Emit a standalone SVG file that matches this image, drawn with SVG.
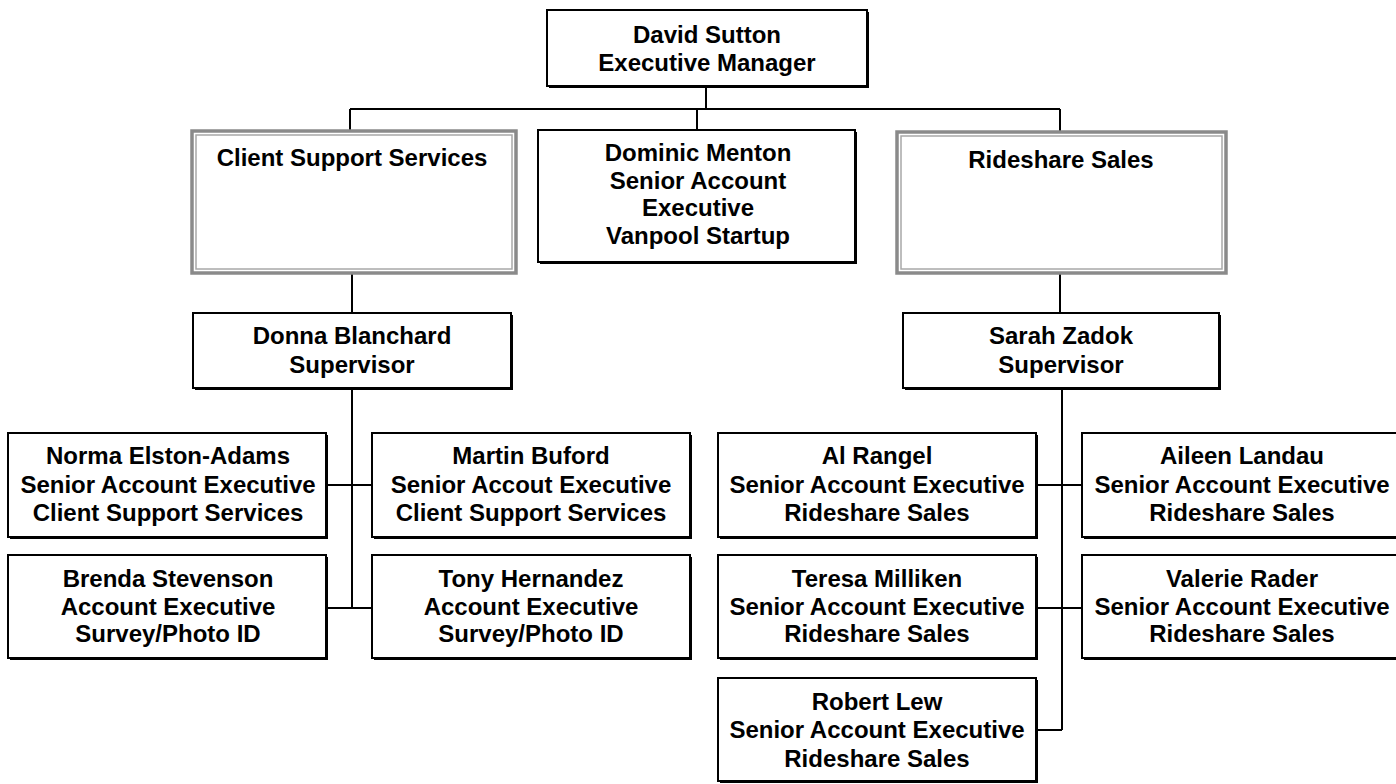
<svg xmlns="http://www.w3.org/2000/svg" width="1396" height="784" viewBox="0 0 1396 784">
<style>
text{font-family:"Liberation Sans",Arial,sans-serif;font-weight:bold;font-size:24px;text-anchor:middle;fill:#000}
.box{fill:#fff;stroke:#000;stroke-width:2}
.sh{fill:#000}
.gout{fill:#fff;stroke:#8a8a8a;stroke-width:3.5}
.gin{fill:none;stroke:#a8a8a8;stroke-width:1.5}
.ln{fill:none;stroke:#000;stroke-width:2}
</style>
<rect width="1396" height="784" fill="#fff"/>
<g id="connectors">
<path class="ln" d="M706 86V109M350 109H1060M350 109V130M697 109V130M1060 109V132"/>
<path class="ln" d="M352 273V313M1060 273V313"/>
<path class="ln" d="M352 388V608M328 485H372M328 608H372"/>
<path class="ln" d="M1062 388V730M1038 485H1082M1038 608H1082M1038 730H1062"/>
</g>
<g id="david-sutton">
<rect class="sh" x="549" y="12" width="320" height="76"/>
<rect class="box" x="547" y="10" width="320" height="76"/>
<text x="707" y="43">David Sutton</text>
<text x="707" y="71">Executive Manager</text>
</g>
<g id="client-support-services">
<rect class="gout" x="192" y="131" width="324" height="142"/>
<rect class="gin" x="196" y="135" width="316" height="134"/>
<text x="352" y="166">Client Support Services</text>
</g>
<g id="dominic-menton">
<rect class="sh" x="540" y="132" width="317" height="132"/>
<rect class="box" x="538" y="130" width="317" height="132"/>
<text x="698" y="161">Dominic Menton</text>
<text x="698" y="189">Senior Account</text>
<text x="698" y="216">Executive</text>
<text x="698" y="244">Vanpool Startup</text>
</g>
<g id="rideshare-sales">
<rect class="gout" x="897" y="132" width="329" height="141"/>
<rect class="gin" x="901" y="136" width="321" height="133"/>
<text x="1061" y="168">Rideshare Sales</text>
</g>
<g id="donna-blanchard">
<rect class="sh" x="195" y="315" width="318" height="75"/>
<rect class="box" x="193" y="313" width="318" height="75"/>
<text x="352" y="344">Donna Blanchard</text>
<text x="352" y="373">Supervisor</text>
</g>
<g id="sarah-zadok">
<rect class="sh" x="905" y="315" width="316" height="75"/>
<rect class="box" x="903" y="313" width="316" height="75"/>
<text x="1061" y="344">Sarah Zadok</text>
<text x="1061" y="373">Supervisor</text>
</g>
<g id="norma-elston-adams">
<rect class="sh" x="10" y="435" width="318" height="104"/>
<rect class="box" x="8" y="433" width="318" height="104"/>
<text x="168" y="464">Norma Elston-Adams</text>
<text x="168" y="493">Senior Account Executive</text>
<text x="168" y="521">Client Support Services</text>
</g>
<g id="martin-buford">
<rect class="sh" x="374" y="435" width="318" height="104"/>
<rect class="box" x="372" y="433" width="318" height="104"/>
<text x="531" y="464">Martin Buford</text>
<text x="531" y="493">Senior Accout Executive</text>
<text x="531" y="521">Client Support Services</text>
</g>
<g id="brenda-stevenson">
<rect class="sh" x="10" y="557" width="318" height="103"/>
<rect class="box" x="8" y="555" width="318" height="103"/>
<text x="168" y="587">Brenda Stevenson</text>
<text x="168" y="615">Account Executive</text>
<text x="168" y="642">Survey/Photo ID</text>
</g>
<g id="tony-hernandez">
<rect class="sh" x="374" y="557" width="318" height="103"/>
<rect class="box" x="372" y="555" width="318" height="103"/>
<text x="531" y="587">Tony Hernandez</text>
<text x="531" y="615">Account Executive</text>
<text x="531" y="642">Survey/Photo ID</text>
</g>
<g id="al-rangel">
<rect class="sh" x="720" y="435" width="318" height="104"/>
<rect class="box" x="718" y="433" width="318" height="104"/>
<text x="877" y="464">Al Rangel</text>
<text x="877" y="493">Senior Account Executive</text>
<text x="877" y="521">Rideshare Sales</text>
</g>
<g id="aileen-landau">
<rect class="sh" x="1084" y="435" width="320" height="104"/>
<rect class="box" x="1082" y="433" width="320" height="104"/>
<text x="1242" y="464">Aileen Landau</text>
<text x="1242" y="493">Senior Account Executive</text>
<text x="1242" y="521">Rideshare Sales</text>
</g>
<g id="teresa-milliken">
<rect class="sh" x="720" y="557" width="318" height="103"/>
<rect class="box" x="718" y="555" width="318" height="103"/>
<text x="877" y="587">Teresa Milliken</text>
<text x="877" y="615">Senior Account Executive</text>
<text x="877" y="642">Rideshare Sales</text>
</g>
<g id="valerie-rader">
<rect class="sh" x="1084" y="557" width="320" height="103"/>
<rect class="box" x="1082" y="555" width="320" height="103"/>
<text x="1242" y="587">Valerie Rader</text>
<text x="1242" y="615">Senior Account Executive</text>
<text x="1242" y="642">Rideshare Sales</text>
</g>
<g id="robert-lew">
<rect class="sh" x="720" y="680" width="318" height="103"/>
<rect class="box" x="718" y="678" width="318" height="103"/>
<text x="877" y="710">Robert Lew</text>
<text x="877" y="738">Senior Account Executive</text>
<text x="877" y="767">Rideshare Sales</text>
</g>
</svg>
